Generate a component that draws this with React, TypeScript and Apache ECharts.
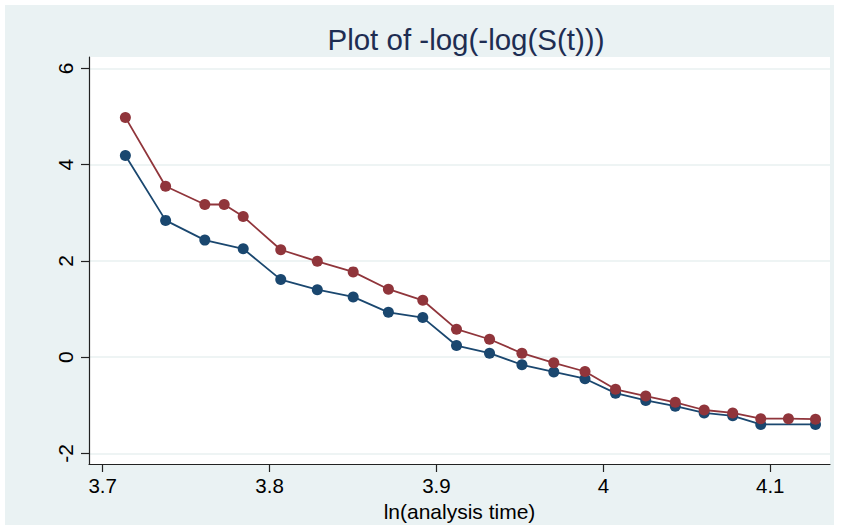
import React, { useEffect, useRef } from "react";
import * as echarts from "echarts";

const titleText = "Plot of -log(-log(S(t)))";
const xAxisTitle = "ln(analysis time)";
const xTickValues = [3.7, 3.8, 3.9, 4, 4.1];
const yTickValues = [-2, 0, 2, 4, 6];

// group 1 (navy)
const xGroup1 = [3.7136, 3.7377, 3.7612, 3.7842, 3.8067, 3.8286, 3.8501, 3.8712, 3.8918, 3.912, 3.9318, 3.9512, 3.9703, 3.989, 4.0073, 4.0254, 4.0431, 4.0604, 4.0775, 4.0943, 4.1271];
const yGroup1 = [4.19, 2.84, 2.43, 2.25, 1.61, 1.4, 1.25, 0.93, 0.82, 0.24, 0.08, -0.16, -0.31, -0.45, -0.75, -0.9, -1.02, -1.16, -1.22, -1.4, -1.4];

// group 2 (maroon)
const xGroup2 = [3.7136, 3.7377, 3.7612, 3.7728, 3.7842, 3.8067, 3.8286, 3.8501, 3.8712, 3.8918, 3.912, 3.9318, 3.9512, 3.9703, 3.989, 4.0073, 4.0254, 4.0431, 4.0604, 4.0775, 4.0943, 4.1109, 4.1271];
const yGroup2 = [4.98, 3.55, 3.17, 3.17, 2.92, 2.23, 1.99, 1.77, 1.41, 1.18, 0.58, 0.37, 0.08, -0.12, -0.3, -0.67, -0.81, -0.94, -1.1, -1.16, -1.28, -1.28, -1.29];

const FONT = "'Liberation Sans', Arial, sans-serif";

export default function App() {
  const ref = useRef<HTMLDivElement>(null);
  useEffect(() => {
    if (!ref.current) return;
    const chart = echarts.init(ref.current, undefined, { renderer: "svg" });
    const zip = (xs: number[], ys: number[]) => xs.map((x, i) => [x, ys[i]]);
    chart.setOption({
      animation: false,
      backgroundColor: "#ffffff",
      graphic: [
        {
          type: "rect",
          z: -10,
          silent: true,
          shape: { x: 5, y: 5, width: 829, height: 520 },
          style: { fill: "#EAF2F3" },
        },
      ],
      title: {
        text: titleText,
        left: 461,
        textAlign: "center",
        top: 19,
        textStyle: {
          fontFamily: FONT,
          fontSize: 29.5,
          fontWeight: "normal",
          color: "#1e2d52",
        },
      },
      grid: {
        left: 89,
        top: 57,
        width: 741,
        height: 407,
        show: true,
        backgroundColor: "#ffffff",
        borderWidth: 0,
      },
      xAxis: {
        type: "value",
        min: 3.6918,
        max: 4.1358,
        name: xAxisTitle,
        nameLocation: "middle",
        nameGap: 27,
        nameTextStyle: { fontFamily: FONT, fontSize: 21, color: "#000" },
        axisLine: { show: true, onZero: false, lineStyle: { color: "#222", width: 1.2 } },
        axisTick: { show: true, length: 8, customValues: xTickValues, lineStyle: { color: "#222", width: 1.2 } },
        axisLabel: {
          customValues: xTickValues,
          margin: 11,
          fontFamily: FONT,
          fontSize: 20.5,
          color: "#000",
        },
        splitLine: { show: false },
      },
      yAxis: {
        type: "value",
        min: -2.222,
        max: 6.235,
        axisLine: { show: true, onZero: false, lineStyle: { color: "#222", width: 1.2 } },
        axisTick: { show: true, length: 8, customValues: yTickValues, lineStyle: { color: "#222", width: 1.2 } },
        axisLabel: {
          customValues: yTickValues,
          rotate: 90,
          margin: 13,
          fontFamily: FONT,
          fontSize: 21,
          color: "#000",
        },
        splitLine: { show: true, lineStyle: { color: "#E8F0F1", width: 1.5 } },
      },
      series: [
        {
          type: "line",
          data: zip(xGroup1, yGroup1),
          symbol: "circle",
          symbolSize: 11,
          showSymbol: true,
          color: "#1A476F",
          lineStyle: { color: "#1A476F", width: 1.8 },
          itemStyle: { color: "#1A476F" },
        },
        {
          type: "line",
          data: zip(xGroup2, yGroup2),
          symbol: "circle",
          symbolSize: 11,
          showSymbol: true,
          color: "#90353B",
          lineStyle: { color: "#90353B", width: 1.8 },
          itemStyle: { color: "#90353B" },
        },
      ],
    });
    return () => chart.dispose();
  }, []);
  return (
    <div
      ref={ref}
      style={{ position: "absolute", left: 0, top: 0, width: 841, height: 531 }}
    />
  );
}
